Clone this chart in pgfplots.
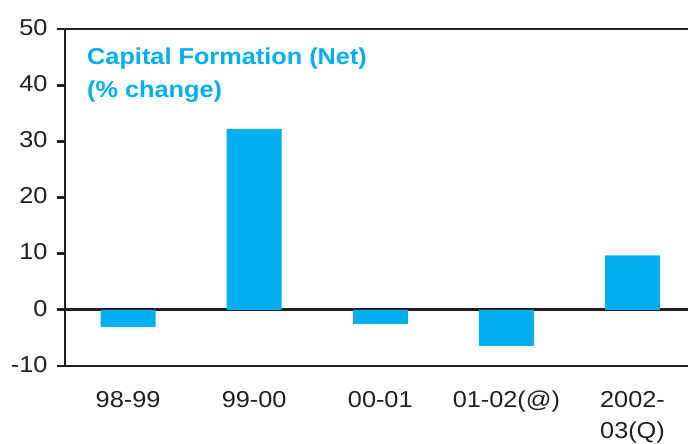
\documentclass[border=0pt]{standalone}
\usepackage{pgfplots}
\pgfplotsset{compat=1.18}
\usepackage{fontspec}
\setmainfont{Liberation Sans}[FakeStretch=1.1]
\definecolor{barblue}{RGB}{0,174,239}
\definecolor{ink}{RGB}{35,31,32}
\begin{document}
\begin{tikzpicture}[x=1pt,y=1pt]
\useasboundingbox (-65,-78) rectangle (623,366);
\begin{axis}[
  at={(0,0)}, anchor=south west,
  width=623pt, height=337pt, scale only axis,
  xmin=-0.5, xmax=4.44, ymin=-10, ymax=50,
  axis y line*=left, axis x line*=bottom,
  axis line style={ink, line width=2.8pt, -},
  every outer x axis line/.append style={-},
  every outer y axis line/.append style={-},
  ytick={-10,0,10,20,30,40,50},
  yticklabels={-10,0,10,20,30,40,50},
  ytick pos=left,
  xtick={0,1,2,3,4},
  xticklabels={98-99,99-00,00-01,01-02(@),{2002-\\03(Q)}},
  x tick style={draw=none},
  y tick style={ink, line width=2.8pt},
  tick align=outside, major tick length=8pt,
  tick label style={text=ink, font=\fontsize{23}{31}\selectfont},
  xticklabel style={align=center, anchor=north, yshift=-8pt},
  yticklabel style={xshift=-6pt},
  typeset ticklabels with strut,
  extra y ticks={0,50}, extra y tick labels={},
  extra y tick style={grid=major, major grid style={ink, line width=2.8pt}},
  ybar, bar width=55pt,
  clip=false,
]
\addplot[fill=barblue, draw=none] coordinates {(0,-3.1) (1,32.2) (2,-2.5) (3,-6.4) (4,9.7)};
\end{axis}
\node[anchor=north west, inner sep=0, align=left, text=barblue,
  font=\fontsize{23}{33}\selectfont\bfseries] at (22,318)
  {Capital Formation (Net)\\(\% change)};
\end{tikzpicture}
\end{document}
